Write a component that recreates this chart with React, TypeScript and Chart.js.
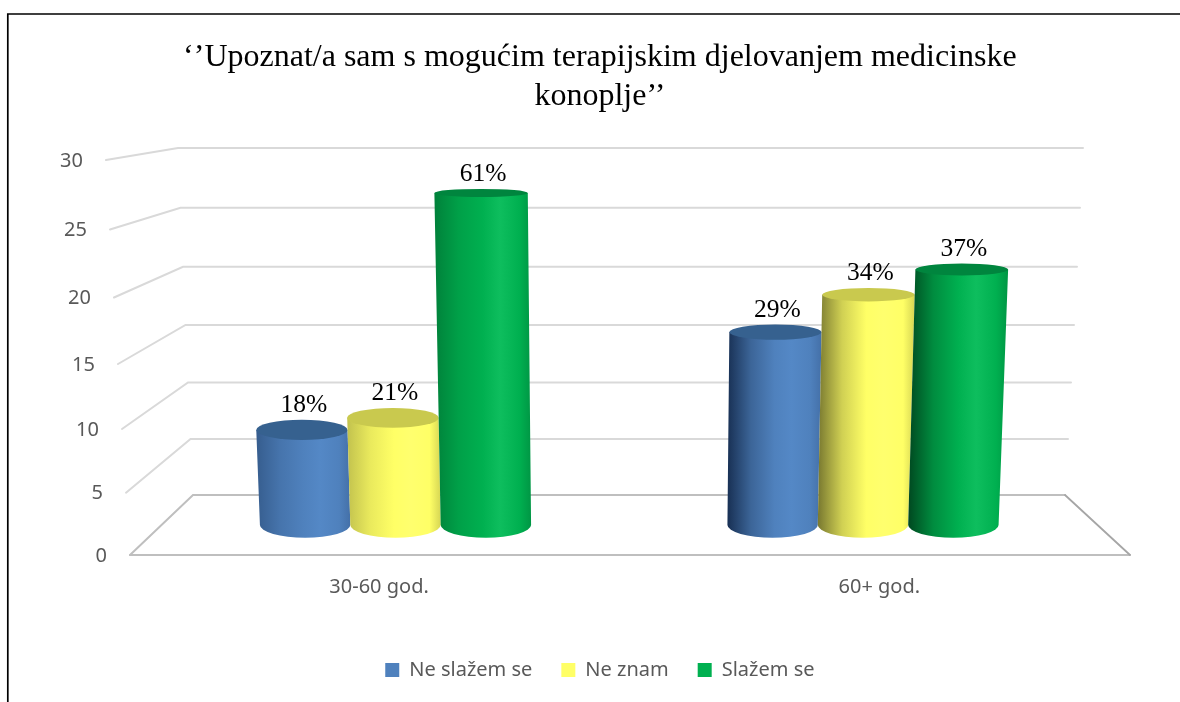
import React, { useEffect, useRef } from "react";
import { Chart, registerables } from "chart.js";

Chart.register(...registerables);

const categories = ["30-60 god.", "60+ god."];
const seriesNames = ["Ne slažem se", "Ne znam", "Slažem se"];
const neSlazemValues = [8, 16];
const neZnamValues = [9, 19];
const slazemValues = [27, 21];
const neSlazemLabels = ["18%", "29%"];
const neZnamLabels = ["21%", "34%"];
const slazemLabels = ["61%", "37%"];
const titleLines = ["‘’Upoznat/a sam s mogućim terapijskim djelovanjem medicinske", "konoplje’’"];
const legendColors = ["#4F81BD", "#FFFF66", "#00B050"];
const pointLabels = [neSlazemLabels, neZnamLabels, slazemLabels];

const SERIF = "'Liberation Serif'";
const SANS = "'Noto Sans'";

// Projection of the 3-D frame (fraction of the value axis -> screen)
const backY = (t: number) => (495 - 352.85 * t) / (1 - 0.0395 * t);
const frontY = (t: number) => (555 - 405.2 * t) / (1 - 0.0637 * t);
const midY = (t: number) => (backY(t) + frontY(t)) / 2;
const backLeftX = (t: number) => 193 - 15 * t;
const backRightX = (t: number) => 1065 + 18 * t;
const frontLeftX = (t: number) => 130 - 24 * t;
const VP_X = 630;
const ryAt = (y: number) => 4 + (y - 192) * 0.026;

const shades = [
  { dark: [24, 48, 84], lit: [79, 129, 189], hi: [84, 136, 198], right: [68, 112, 168], cap: "#36618F" },
  { dark: [120, 120, 48], lit: [255, 255, 102], hi: [255, 255, 110], right: [214, 214, 84], cap: "#C9C94E" },
  { dark: [0, 72, 32], lit: [0, 176, 80], hi: [14, 190, 94], right: [0, 150, 68], cap: "#00853E" },
];
const rgb = (c: number[]) => `rgb(${c.map(Math.round).join(",")})`;
const mix = (a: number[], b: number[], k: number) => a.map((v, i) => v + (b[i] - v) * k);

const frame3d = {
  id: "frame3d",
  beforeDatasetsDraw(chart: any) {
    const { ctx, chartArea: ca, scales } = chart;
    const toT = (px: number) => (ca.bottom - px) / (ca.bottom - ca.top);
    ctx.save();
    // outer frame: open on the right and bottom
    ctx.strokeStyle = "#000";
    ctx.lineWidth = 1.7;
    ctx.beginPath();
    ctx.moveTo(7.8, 702);
    ctx.lineTo(7.8, 14);
    ctx.lineTo(1180, 14);
    ctx.stroke();

    // gridlines and value labels
    ctx.lineCap = "round";
    scales.y.ticks.forEach((tick: any) => {
      const t = toT(scales.y.getPixelForValue(tick.value));
      ctx.strokeStyle = t === 0 ? "#BFBFBF" : "#D9D9D9";
      ctx.lineWidth = 2;
      ctx.beginPath();
      ctx.moveTo(frontLeftX(t), frontY(t));
      ctx.lineTo(backLeftX(t), backY(t));
      ctx.lineTo(backRightX(t), backY(t));
      ctx.stroke();
      ctx.fillStyle = "#595959";
      ctx.font = `20px ${SANS}`;
      ctx.textAlign = "right";
      ctx.textBaseline = "middle";
      ctx.fillText(String(tick.value), frontLeftX(t) - 23, frontY(t) + 1);
    });

    // floor
    ctx.strokeStyle = "#BFBFBF";
    ctx.lineWidth = 2;
    ctx.beginPath();
    ctx.moveTo(frontLeftX(0), frontY(0));
    ctx.lineTo(1130, frontY(0));
    ctx.stroke();
    ctx.strokeStyle = "#A6A6A6";
    ctx.lineWidth = 1.8;
    ctx.beginPath();
    ctx.moveTo(backRightX(0), backY(0));
    ctx.lineTo(1130, frontY(0));
    ctx.stroke();

    // category labels sit on the front edge of the floor
    ctx.fillStyle = "#595959";
    ctx.font = `20px ${SANS}`;
    ctx.textAlign = "center";
    ctx.textBaseline = "middle";
    categories.forEach((c, i) => {
      const x = scales.x.getPixelForTick(i);
      ctx.fillText(c, VP_X + (x - VP_X) * 1.07, 587);
    });
    ctx.restore();
  },
  beforeDatasetDraw() {
    return false;
  },
  afterDatasetsDraw(chart: any) {
    const { ctx, chartArea: ca } = chart;
    const toT = (px: number) => (ca.bottom - px) / (ca.bottom - ca.top);
    chart.data.datasets.forEach((_: any, d: number) => {
      const meta = chart.getDatasetMeta(d);
      meta.data.forEach((el: any, i: number) => {
        const t = toT(el.y);
        const w = el.width;
        const baseX = el.x;
        const baseY = midY(0);
        const topY = midY(t);
        const s = 1 + 0.037 * t;
        const topX = VP_X + (baseX - VP_X) * s;
        const hwB = w / 2;
        const hwT = (w * s) / 2;
        const ryB = ryAt(baseY);
        const ryT = ryAt(topY);
        const sh = shades[d];
        const shadow = baseX < VP_X ? 0.45 : 1;
        const grad = ctx.createLinearGradient(Math.min(topX - hwT, baseX - hwB), 0, Math.max(topX + hwT, baseX + hwB), 0);
        const lit = rgb(sh.lit);
        grad.addColorStop(0, rgb(mix(sh.lit, sh.dark, shadow)));
        grad.addColorStop(0.25, rgb(mix(sh.lit, sh.dark, shadow * 0.35)));
        grad.addColorStop(0.5, lit);
        grad.addColorStop(0.68, rgb(sh.hi));
        grad.addColorStop(0.88, lit);
        grad.addColorStop(1, rgb(sh.right));
        ctx.save();
        ctx.fillStyle = grad;
        ctx.beginPath();
        ctx.moveTo(topX - hwT, topY);
        ctx.lineTo(baseX - hwB, baseY);
        ctx.ellipse(baseX, baseY, hwB, ryB, 0, Math.PI, 0, true);
        ctx.lineTo(topX + hwT, topY);
        ctx.closePath();
        ctx.fill();
        ctx.fillStyle = sh.cap;
        ctx.beginPath();
        ctx.ellipse(topX, topY, hwT, ryT, 0, 0, Math.PI * 2);
        ctx.fill();
        ctx.restore();
      });
    });
    // data labels, on top of every cylinder
    ctx.save();
    ctx.fillStyle = "#000";
    ctx.font = `25.5px ${SERIF}`;
    ctx.textAlign = "center";
    ctx.textBaseline = "middle";
    chart.data.datasets.forEach((_: any, d: number) => {
      chart.getDatasetMeta(d).data.forEach((el: any, i: number) => {
        const t = toT(el.y);
        const topY = midY(t);
        const topX = VP_X + (el.x - VP_X) * (1 + 0.037 * t);
        ctx.fillText(pointLabels[d][i], topX + 2, topY - ryAt(topY) - 14.5);
      });
    });
    ctx.restore();
  },
};

export default function App() {
  const ref = useRef<HTMLCanvasElement>(null);
  useEffect(() => {
    if (!ref.current) return;
    const chart = new Chart(ref.current, {
      type: "bar",
      data: {
        labels: categories,
        datasets: [
          { label: seriesNames[0], data: neSlazemValues, backgroundColor: legendColors[0] },
          { label: seriesNames[1], data: neZnamValues, backgroundColor: legendColors[1] },
          { label: seriesNames[2], data: slazemValues, backgroundColor: legendColors[2] },
        ],
      },
      options: {
        responsive: false,
        animation: false,
        layout: { padding: { left: 103, right: 83.25, top: 0, bottom: 12 } },
        datasets: { bar: { categoryPercentage: 0.58, barPercentage: 1 } },
        scales: {
          x: {
            grid: { display: false },
            border: { display: false },
            ticks: { display: false },
            afterFit(scale: any) {
              scale.height = 156;
            },
          },
          y: {
            min: 0,
            max: 30,
            grid: { display: false },
            border: { display: false },
            ticks: { display: false, stepSize: 5 },
            afterFit(scale: any) {
              scale.width = 58.75;
            },
          },
        },
        plugins: {
          tooltip: { enabled: false },
          title: {
            display: true,
            text: titleLines,
            color: "#000",
            font: { family: SERIF, size: 32, weight: "normal", lineHeight: 1.22 },
            padding: { top: 38, bottom: 34 },
          },
          legend: {
            position: "bottom",
            labels: {
              boxWidth: 14,
              boxHeight: 14,
              padding: 29,
              color: "#595959",
              font: { family: SANS, size: 20 },
            },
          },
        },
      } as any,
      plugins: [frame3d as any],
    });
    return () => chart.destroy();
  }, []);
  return (
    <div style={{ position: "absolute", left: 0, top: 0, width: 1180, height: 702, background: "#fff" }}>
      <canvas ref={ref} width={1180} height={702} style={{ display: "block" }} />
    </div>
  );
}
